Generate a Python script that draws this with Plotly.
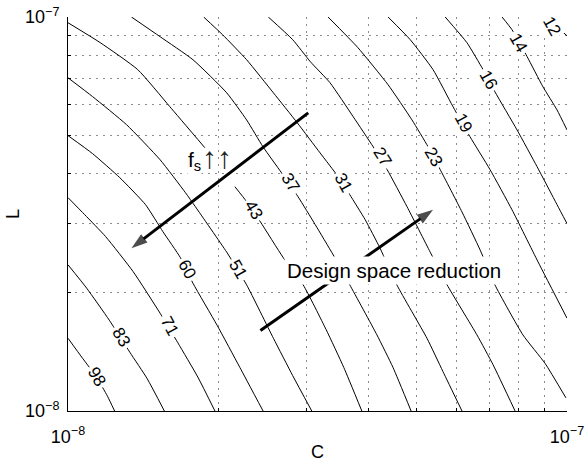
import numpy as np
import plotly.graph_objects as go

# contour levels (f_s) and traced iso-lines (C in F, L in H)
levels = [12, 14, 16, 19, 23, 27, 31, 37, 43, 51, 60, 71, 83, 98]

C_12 = [9.16e-8, 9.55e-8, 10.0e-8]
L_12 = [10.0e-8, 9.45e-8, 8.96e-8]
C_14 = [7.41e-8, 7.76e-8, 8.32e-8, 8.95e-8, 9.55e-8, 10.0e-8]
L_14 = [10.0e-8, 9.28e-8, 7.93e-8, 6.65e-8, 5.81e-8, 5.17e-8]
C_16 = [5.70e-8, 6.30e-8, 6.79e-8, 7.17e-8, 7.94e-8, 8.71e-8, 9.55e-8, 10.0e-8]
L_16 = [10.0e-8, 8.61e-8, 7.35e-8, 6.46e-8, 5.17e-8, 4.17e-8, 3.34e-8, 2.99e-8]
C_19 = [4.38e-8, 4.85e-8, 5.39e-8, 5.91e-8, 6.39e-8, 7.01e-8, 7.76e-8, 8.75e-8, 10.0e-8]
L_19 = [10.0e-8, 8.76e-8, 7.35e-8, 5.92e-8, 4.97e-8, 4.10e-8, 3.24e-8, 2.39e-8, 1.72e-8]
C_23 = [3.32e-8, 3.81e-8, 4.38e-8, 4.89e-8, 5.27e-8, 5.57e-8, 6.16e-8, 6.70e-8, 7.17e-8, 8.16e-8, 9.04e-8, 9.95e-8]
L_23 = [10.0e-8, 8.36e-8, 6.73e-8, 5.48e-8, 4.68e-8, 4.10e-8, 3.20e-8, 2.56e-8, 2.09e-8, 1.56e-8, 1.32e-8, 1.08e-8]
C_27 = [2.52e-8, 2.82e-8, 3.06e-8, 3.35e-8, 3.73e-8, 4.09e-8, 4.36e-8, 4.78e-8, 5.32e-8, 5.75e-8, 6.60e-8, 7.11e-8, 7.87e-8]
L_27 = [10.0e-8, 8.76e-8, 7.70e-8, 6.81e-8, 5.58e-8, 4.68e-8, 4.10e-8, 3.30e-8, 2.53e-8, 2.09e-8, 1.56e-8, 1.31e-8, 1.00e-8]
C_31 = [1.87e-8, 2.04e-8, 2.28e-8, 2.58e-8, 2.88e-8, 3.20e-8, 3.48e-8, 3.67e-8, 3.94e-8, 4.22e-8, 4.56e-8, 5.24e-8, 5.64e-8, 6.16e-8]
L_31 = [10.0e-8, 9.02e-8, 7.79e-8, 6.42e-8, 5.39e-8, 4.52e-8, 3.93e-8, 3.54e-8, 3.06e-8, 2.59e-8, 2.09e-8, 1.53e-8, 1.26e-8, 1.00e-8]
C_37 = [1.34e-8, 1.53e-8, 1.78e-8, 2.08e-8, 2.28e-8, 2.46e-8, 2.68e-8, 2.89e-8, 3.13e-8, 3.40e-8, 3.67e-8, 4.16e-8, 4.48e-8, 4.87e-8]
L_37 = [10.0e-8, 8.91e-8, 7.79e-8, 6.42e-8, 5.48e-8, 4.68e-8, 4.02e-8, 3.50e-8, 2.97e-8, 2.49e-8, 2.09e-8, 1.56e-8, 1.29e-8, 1.00e-8]
# the 43 line is interrupted behind the "f_s" note
C_43a = [1.00e-8, 1.16e-8, 1.38e-8, 1.60e-8, 1.88e-8]
L_43a = [9.67e-8, 8.61e-8, 7.35e-8, 5.92e-8, 4.66e-8]
C_43b = [2.16e-8, 2.28e-8, 2.43e-8, 2.70e-8, 2.96e-8, 3.29e-8, 3.57e-8, 3.88e-8]
L_43b = [3.71e-8, 3.40e-8, 3.02e-8, 2.45e-8, 2.09e-8, 1.61e-8, 1.29e-8, 1.00e-8]
C_51 = [1.00e-8, 1.12e-8, 1.31e-8, 1.53e-8, 1.72e-8, 1.80e-8, 2.08e-8, 2.28e-8, 2.58e-8, 2.82e-8, 3.08e-8]
L_51 = [7.01e-8, 6.28e-8, 5.33e-8, 4.34e-8, 3.58e-8, 3.30e-8, 2.53e-8, 2.09e-8, 1.53e-8, 1.23e-8, 1.00e-8]
C_60 = [1.00e-8, 1.12e-8, 1.27e-8, 1.43e-8, 1.55e-8, 1.68e-8, 1.78e-8, 1.99e-8, 2.21e-8, 2.46e-8]
L_60 = [5.00e-8, 4.50e-8, 3.91e-8, 3.34e-8, 2.85e-8, 2.45e-8, 2.11e-8, 1.65e-8, 1.29e-8, 1.00e-8]
C_71 = [1.00e-8, 1.08e-8, 1.19e-8, 1.35e-8, 1.53e-8, 1.66e-8, 1.82e-8, 1.97e-8]
L_71 = [3.48e-8, 3.15e-8, 2.77e-8, 2.26e-8, 1.77e-8, 1.49e-8, 1.22e-8, 1.00e-8]
C_83 = [1.00e-8, 1.09e-8, 1.21e-8, 1.33e-8, 1.44e-8, 1.56e-8]
L_83 = [2.35e-8, 2.05e-8, 1.70e-8, 1.41e-8, 1.21e-8, 1.00e-8]
C_98 = [1.00e-8, 1.07e-8, 1.14e-8, 1.20e-8, 1.24e-8]
L_98 = [1.53e-8, 1.36e-8, 1.22e-8, 1.09e-8, 1.00e-8]

curves_C = [C_12, C_14, C_16, C_19, C_23, C_27, C_31, C_37, C_43a, C_43b, C_51, C_60, C_71, C_83, C_98]
curves_L = [L_12, L_14, L_16, L_19, L_23, L_27, L_31, L_37, L_43a, L_43b, L_51, L_60, L_71, L_83, L_98]

# inline contour-label positions and orientations
label_C = [9.33e-8, 7.98e-8, 6.95e-8, 6.19e-8, 5.39e-8, 4.26e-8, 3.56e-8, 2.79e-8, 2.35e-8, 2.19e-8, 1.73e-8, 1.60e-8, 1.28e-8, 1.14e-8]
label_L = [9.45e-8, 8.61e-8, 6.93e-8, 5.39e-8, 4.42e-8, 4.42e-8, 3.80e-8, 3.80e-8, 3.24e-8, 2.28e-8, 2.28e-8, 1.64e-8, 1.54e-8, 1.22e-8]
label_angle = [60, 60, 61, 62, 60, 58, 60, 58, 59, 60, 61, 62, 60, 60]

# thick arrows: [tail, head]
fs_arrow_C = [3.03e-8, 1.34e-8]
fs_arrow_L = [5.71e-8, 2.59e-8]
ds_arrow_C = [2.43e-8, 5.39e-8]
ds_arrow_L = [1.60e-8, 3.24e-8]
fs_text_pos = (1.79e-8, 4.32e-8)
up_arrows_pos = (1.99e-8, 4.40e-8)
ds_text_pos = (4.50e-8, 2.27e-8)

FONT = "Liberation Sans, Arial, Helvetica, sans-serif"

fig = go.Figure()
for cx, ly in zip(curves_C, curves_L):
    fig.add_trace(go.Scatter(x=cx, y=ly, mode="lines",
                             line=dict(color="black", width=1, shape="spline", smoothing=0.5),
                             hoverinfo="skip", showlegend=False))

for ac, al in [(fs_arrow_C, fs_arrow_L), (ds_arrow_C, ds_arrow_L)]:
    fig.add_trace(go.Scatter(x=ac, y=al, mode="lines+markers",
                             line=dict(color="black", width=3),
                             marker=dict(symbol=["circle", "arrow"], size=[0, 17], color="black",
                                         angleref="previous", line=dict(width=0)),
                             hoverinfo="skip", showlegend=False))

ann = []
for lv, c, l, a in zip(levels, label_C, label_L, label_angle):
    ann.append(dict(x=np.log10(c), y=np.log10(l), xref="x", yref="y", text=str(lv), showarrow=False,
                    textangle=a, bgcolor="white", borderpad=2,
                    font=dict(family=FONT, size=17, color="black")))
ann.append(dict(x=np.log10(fs_text_pos[0]), y=np.log10(fs_text_pos[1]), xref="x", yref="y",
                text="f<sub>s</sub>", showarrow=False, bgcolor="white", borderpad=0,
                font=dict(family=FONT, size=21, color="black")))
ann.append(dict(x=np.log10(up_arrows_pos[0]), y=np.log10(up_arrows_pos[1]), xref="x", yref="y",
                text="↑↑", showarrow=False, borderpad=0,
                font=dict(family=FONT, size=30, color="#222222")))
ann.append(dict(x=np.log10(ds_text_pos[0]), y=np.log10(ds_text_pos[1]), xref="x", yref="y",
                text="Design space reduction", showarrow=False, bgcolor="white", borderpad=2,
                font=dict(family=FONT, size=20.5, color="black")))

minor_vals = [k * 1e-8 for k in range(2, 10)]
GRID = "#8c8c8c"


def axis_style(standoff_lbl):
    return dict(type="log", range=[-8, -7], tickvals=[1e-8, 1e-7],
                ticktext=["10<sup>−8</sup>", "10<sup>−7</sup>"],
                showgrid=True, gridcolor=GRID, griddash="2px,5px", gridwidth=1,
                ticks="inside", ticklen=5, tickcolor="black", showline=True, linecolor="black", linewidth=1,
                zeroline=False, ticklabelstandoff=standoff_lbl, automargin=False,
                tickfont=dict(family=FONT, size=18, color="black"),
                minor=dict(tickvals=minor_vals, showgrid=True, gridcolor=GRID, griddash="2px,5px",
                           gridwidth=1, ticks="inside", ticklen=3, tickcolor="black"))


fig.update_layout(
    width=587, height=462, margin=dict(l=68, r=20, t=17, b=51),
    paper_bgcolor="white", plot_bgcolor="white",
    xaxis=dict(**axis_style(9), title=dict(text="C", font=dict(family=FONT, size=18, color="black"), standoff=2)),
    yaxis=dict(**axis_style(4), title=dict(text="L", font=dict(family=FONT, size=18, color="black"), standoff=0)),
    annotations=ann, showlegend=False,
)

fig.write_html("out.html")
